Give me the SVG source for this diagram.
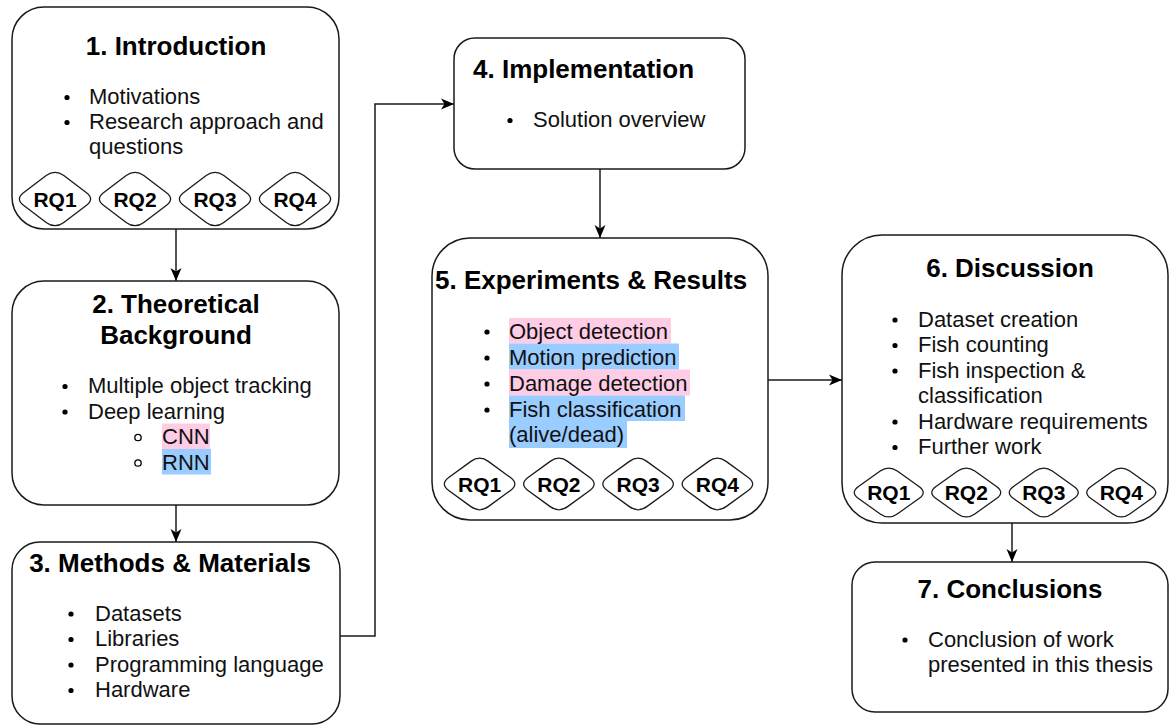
<svg xmlns="http://www.w3.org/2000/svg" xmlns:xlink="http://www.w3.org/1999/xlink" width="1169" height="727" viewBox="0 0 1169 727">
  <style>
    .box { fill: #ffffff; stroke: #1a1a1a; stroke-width: 1.5; }
    .rq { fill: #ffffff; stroke: #1a1a1a; stroke-width: 1.3; }
    .title { font-family: "Liberation Sans", Arial, sans-serif; font-size: 26px; font-weight: bold; fill: #000000; }
    .body { font-family: "Liberation Sans", Arial, sans-serif; font-size: 22px; fill: #111111; }
    .rqt { font-family: "Liberation Sans", Arial, sans-serif; font-size: 21px; font-weight: bold; fill: #000000; text-anchor: middle; }
    .mid { text-anchor: middle; }
    .dot { fill: #000000; }
    .ring { fill: none; stroke: #000000; stroke-width: 1.3; }
    .pink { fill: #ffcce6; }
    .blue { fill: #99ccff; }
    .edge { fill: none; stroke: #1a1a1a; stroke-width: 1.5; marker-end: url(#arrow); }
  </style>
  <defs>
    <marker id="arrow" markerUnits="userSpaceOnUse" markerWidth="14" markerHeight="12" viewBox="0 0 14 12" refX="13" refY="6" orient="auto">
      <path d="M0,0.5 L13,6 L0,11.5 L3.5,6 Z" fill="#000000"/>
    </marker>
    <!-- rounded rhombus used for the RQ tags, 80 x 60 around its centre -->
    <path id="rqshape" d="M-31.2,-6.6 L-8.8,-23.4 Q0,-30 8.8,-23.4 L31.2,-6.6 Q40,0 31.2,6.6 L8.8,23.4 Q0,30 -8.8,23.4 L-31.2,6.6 Q-40,0 -31.2,-6.6 Z"/>
  </defs>

  <!-- connectors -->
  <g id="connectors">
    <path class="edge" d="M176,229 L176,281"/>
    <path class="edge" d="M176,505 L176,542"/>
    <path class="edge" d="M340,636 L375,636 L375,104 L454,104"/>
    <path class="edge" d="M600,169 L600,238"/>
    <path class="edge" d="M768,380 L842,380"/>
    <path class="edge" d="M1012,523 L1012,562"/>
  </g>

  <!-- 1. Introduction -->
  <g id="introduction">
    <rect class="box" x="12" y="7" width="327" height="222" rx="32" ry="32"/>
    <text class="title mid" x="176" y="55">1. Introduction</text>
    <circle class="dot" cx="67" cy="97.5" r="2.6"/>
    <circle class="dot" cx="67" cy="122.5" r="2.6"/>
    <text class="body" x="89" y="104">Motivations</text>
    <text class="body" x="89" y="129">Research approach and</text>
    <text class="body" x="89" y="154">questions</text>
    <g class="rq">
      <use xlink:href="#rqshape" transform="translate(55,199)"/>
      <use xlink:href="#rqshape" transform="translate(135,199)"/>
      <use xlink:href="#rqshape" transform="translate(215,199)"/>
      <use xlink:href="#rqshape" transform="translate(295,199)"/>
    </g>
    <text class="rqt" x="55" y="206.5">RQ1</text>
    <text class="rqt" x="135" y="206.5">RQ2</text>
    <text class="rqt" x="215" y="206.5">RQ3</text>
    <text class="rqt" x="295" y="206.5">RQ4</text>
  </g>

  <!-- 2. Theoretical Background -->
  <g id="theoretical-background">
    <rect class="box" x="12" y="281" width="327" height="224" rx="32" ry="32"/>
    <text class="title mid" x="176" y="313">2. Theoretical</text>
    <text class="title mid" x="176" y="344">Background</text>
    <rect class="pink" x="162" y="423.5" width="48" height="25.5"/>
    <rect class="blue" x="162" y="449" width="49" height="25.5"/>
    <circle class="dot" cx="65" cy="386.5" r="2.6"/>
    <circle class="dot" cx="65" cy="412" r="2.6"/>
    <circle class="ring" cx="138" cy="437.5" r="3.2"/>
    <circle class="ring" cx="138" cy="463" r="3.2"/>
    <text class="body" x="88" y="393">Multiple object tracking</text>
    <text class="body" x="88" y="418.5">Deep learning</text>
    <text class="body" x="162" y="444">CNN</text>
    <text class="body" x="162" y="469.5">RNN</text>
  </g>

  <!-- 3. Methods & Materials -->
  <g id="methods-materials">
    <rect class="box" x="12" y="542" width="328" height="182" rx="28" ry="28"/>
    <text class="title mid" x="170" y="572">3. Methods &amp; Materials</text>
    <circle class="dot" cx="71" cy="614" r="2.6"/>
    <circle class="dot" cx="71" cy="639.5" r="2.6"/>
    <circle class="dot" cx="71" cy="665" r="2.6"/>
    <circle class="dot" cx="71" cy="690.5" r="2.6"/>
    <text class="body" x="95" y="620.5">Datasets</text>
    <text class="body" x="95" y="646">Libraries</text>
    <text class="body" x="95" y="671.5">Programming language</text>
    <text class="body" x="95" y="697">Hardware</text>
  </g>

  <!-- 4. Implementation -->
  <g id="implementation">
    <rect class="box" x="454" y="38" width="291" height="131" rx="21" ry="21"/>
    <text class="title" x="473" y="78">4. Implementation</text>
    <circle class="dot" cx="510" cy="120.5" r="2.6"/>
    <text class="body" x="533" y="127">Solution overview</text>
  </g>

  <!-- 5. Experiments & Results -->
  <g id="experiments-results">
    <rect class="box" x="432" y="238" width="336" height="282" rx="38" ry="38"/>
    <text class="title" x="435" y="289">5. Experiments &amp; Results</text>
    <rect class="pink" x="509" y="318" width="162" height="25.5"/>
    <rect class="blue" x="509" y="343.5" width="170" height="26"/>
    <rect class="pink" x="509" y="369.5" width="181" height="26"/>
    <rect class="blue" x="509" y="395.5" width="176" height="25.5"/>
    <rect class="blue" x="509" y="421" width="118" height="27"/>
    <circle class="dot" cx="487" cy="332" r="2.6"/>
    <circle class="dot" cx="487" cy="358" r="2.6"/>
    <circle class="dot" cx="487" cy="384" r="2.6"/>
    <circle class="dot" cx="487" cy="410" r="2.6"/>
    <text class="body" x="509" y="338.5">Object detection</text>
    <text class="body" x="509" y="364.5">Motion prediction</text>
    <text class="body" x="509" y="390.5">Damage detection</text>
    <text class="body" x="509" y="416.5">Fish classification</text>
    <text class="body" x="509" y="442">(alive/dead)</text>
    <g class="rq">
      <use xlink:href="#rqshape" transform="translate(479.6,484) scale(0.99,0.967)"/>
      <use xlink:href="#rqshape" transform="translate(558.9,484) scale(0.99,0.967)"/>
      <use xlink:href="#rqshape" transform="translate(638.1,484) scale(0.99,0.967)"/>
      <use xlink:href="#rqshape" transform="translate(717.4,484) scale(0.99,0.967)"/>
    </g>
    <text class="rqt" x="479.6" y="491.5">RQ1</text>
    <text class="rqt" x="558.9" y="491.5">RQ2</text>
    <text class="rqt" x="638.1" y="491.5">RQ3</text>
    <text class="rqt" x="717.4" y="491.5">RQ4</text>
  </g>

  <!-- 6. Discussion -->
  <g id="discussion">
    <rect class="box" x="842" y="235" width="326" height="288" rx="40" ry="40"/>
    <text class="title mid" x="1010" y="277">6. Discussion</text>
    <circle class="dot" cx="895" cy="320" r="2.6"/>
    <circle class="dot" cx="895" cy="345.5" r="2.6"/>
    <circle class="dot" cx="895" cy="371" r="2.6"/>
    <circle class="dot" cx="895" cy="422" r="2.6"/>
    <circle class="dot" cx="895" cy="447.5" r="2.6"/>
    <text class="body" x="918" y="326.5">Dataset creation</text>
    <text class="body" x="918" y="352">Fish counting</text>
    <text class="body" x="918" y="377.5">Fish inspection &amp;</text>
    <text class="body" x="918" y="403">classification</text>
    <text class="body" x="918" y="428.5">Hardware requirements</text>
    <text class="body" x="918" y="454">Further work</text>
    <g class="rq">
      <use xlink:href="#rqshape" transform="translate(888.75,492.5) scale(0.969,0.917)"/>
      <use xlink:href="#rqshape" transform="translate(966.25,492.5) scale(0.969,0.917)"/>
      <use xlink:href="#rqshape" transform="translate(1043.75,492.5) scale(0.969,0.917)"/>
      <use xlink:href="#rqshape" transform="translate(1121.25,492.5) scale(0.969,0.917)"/>
    </g>
    <text class="rqt" x="888.75" y="500">RQ1</text>
    <text class="rqt" x="966.25" y="500">RQ2</text>
    <text class="rqt" x="1043.75" y="500">RQ3</text>
    <text class="rqt" x="1121.25" y="500">RQ4</text>
  </g>

  <!-- 7. Conclusions -->
  <g id="conclusions">
    <rect class="box" x="852" y="562" width="316" height="150" rx="23" ry="23"/>
    <text class="title mid" x="1010" y="598">7. Conclusions</text>
    <circle class="dot" cx="905" cy="640" r="2.6"/>
    <text class="body" x="928" y="646.5">Conclusion of work</text>
    <text class="body" x="928" y="672">presented in this thesis</text>
  </g>
</svg>
